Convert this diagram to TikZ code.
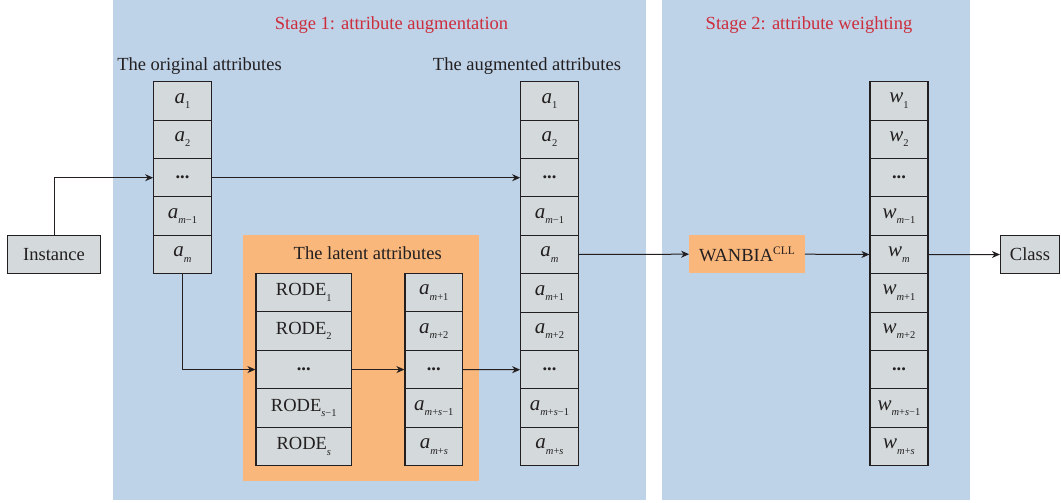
\documentclass[tikz,border=0pt]{standalone}
\usepackage{fontspec}
\setmainfont{Liberation Serif}
\usetikzlibrary{arrows.meta}
\definecolor{panel}{RGB}{190,210,232}
\definecolor{lat}{RGB}{249,183,123}
\definecolor{cell}{RGB}{212,218,219}
\definecolor{ink}{RGB}{35,31,32}
\definecolor{stagered}{RGB}{204,45,60}
\newcommand{\sbx}[1]{\raisebox{-5.5pt}{\fontsize{10.5}{12}\selectfont#1}}
\newcommand{\att}[2]{{\fontsize{21}{24}\selectfont\textit{#1}}\sbx{#2}}
\newcommand{\im}{\textit{m}}
\newcommand{\is}{\textit{s}}
\newcommand{\dts}{\raisebox{-0.3ex}{\textbf{...}}}
\begin{document}
\begin{tikzpicture}[x=1pt,y=-1pt,
 cellbox/.style={draw=ink,fill=cell,line width=1.1pt,minimum height=38.4pt,inner sep=0pt,font=\fontsize{18.5}{22}\selectfont,text=ink},
 lbl/.style={font=\fontsize{18.5}{22}\selectfont,text=ink,inner sep=0pt},
 conn/.style={draw=ink,line width=1pt,-{Stealth[length=8pt,width=7pt,inset=2.5pt]}},
]
\useasboundingbox (0,0) rectangle (1061,503);
\fill[panel] (113,0) rectangle (646,500);
\fill[panel] (662,0) rectangle (970,500);
\fill[lat] (243,235) rectangle (479,481);

\node[lbl,text=stagered] (s1) at (391.5,25) {Stage 1: attribute augmentation};
\node[lbl,text=stagered] (s2) at (809,25) {Stage 2: attribute weighting};
\node[lbl] (tor) at (199.5,66) {The original attributes};
\node[lbl] (tau) at (527,66) {The augmented attributes};
\node[lbl] (tla) at (367.7,253.3) {The latent attributes};

% original attributes
\foreach \i/\t in {1/{\att{a}{1}},2/{\att{a}{2}},3/{\dts},4/{\att{a}{\im−1}},5/{\att{a}{\im}}}
  \node[cellbox,minimum width=57.6pt] (o\i) at (182.5,{81.7+38.4*(\i-0.5)}) {\t};

% augmented attributes
\foreach \i/\t in {1/{\att{a}{1}},2/{\att{a}{2}},3/{\dts},4/{\att{a}{\im−1}},5/{\att{a}{\im}},6/{\att{a}{\im+1}},7/{\att{a}{\im+2}},8/{\dts},9/{\att{a}{\im+\is−1}},10/{\att{a}{\im+\is}}}
  \node[cellbox,minimum width=57.6pt] (g\i) at (549.5,{81.7+38.4*(\i-0.5)}) {\t};

% weights
\foreach \i/\t in {1/{\att{w}{1}},2/{\att{w}{2}},3/{\dts},4/{\att{w}{\im−1}},5/{\att{w}{\im}},6/{\att{w}{\im+1}},7/{\att{w}{\im+2}},8/{\dts},9/{\att{w}{\im+\is−1}},10/{\att{w}{\im+\is}}}
  \node[cellbox,minimum width=58pt] (w\i) at (899,{81.7+38.4*(\i-0.5)}) {\t};

% RODE column
\foreach \i/\t in {1/{RODE\sbx{1}},2/{RODE\sbx{2}},3/{\dts},4/{RODE\sbx{\is−1}},5/{RODE\sbx{\is}}}
  \node[cellbox,minimum width=95.7pt,minimum height=38.5pt] (r\i) at (303.8,{273.3+38.5*(\i-0.5)}) {\t};

% latent attributes
\foreach \i/\t in {1/{\att{a}{\im+1}},2/{\att{a}{\im+2}},3/{\dts},4/{\att{a}{\im+\is−1}},5/{\att{a}{\im+\is}}}
  \node[cellbox,minimum width=57.7pt,minimum height=38.5pt] (l\i) at (433.8,{273.3+38.5*(\i-0.5)}) {\t};

\node[cellbox,minimum width=92.3pt,minimum height=37.5pt] (inst) at (54,254.5) {Instance};
\node[cellbox,minimum width=59pt,minimum height=38pt] (cls) at (1030,254.5) {Class};
\node[lbl,fill=lat,minimum width=115.4pt,minimum height=38.3pt] (wan) at (747,254.2) {WANBIA\raisebox{0.9ex}{\fontsize{11.5}{14}\selectfont CLL}};

\draw[conn] (inst.north) |- (o3.west);
\draw[conn] (o3.east) -- (g3.west);
\draw[conn] (o5.south) |- (r3.west);
\draw[conn] (r3.east) -- (l3.west);
\draw[conn] (l3.east) -- (g8.west);
\draw[conn] (g5.east) -- (wan.west);
\draw[conn] (wan.east) -- (w5.west);
\draw[conn] (w5.east) -- (cls.west);
\end{tikzpicture}
\end{document}
